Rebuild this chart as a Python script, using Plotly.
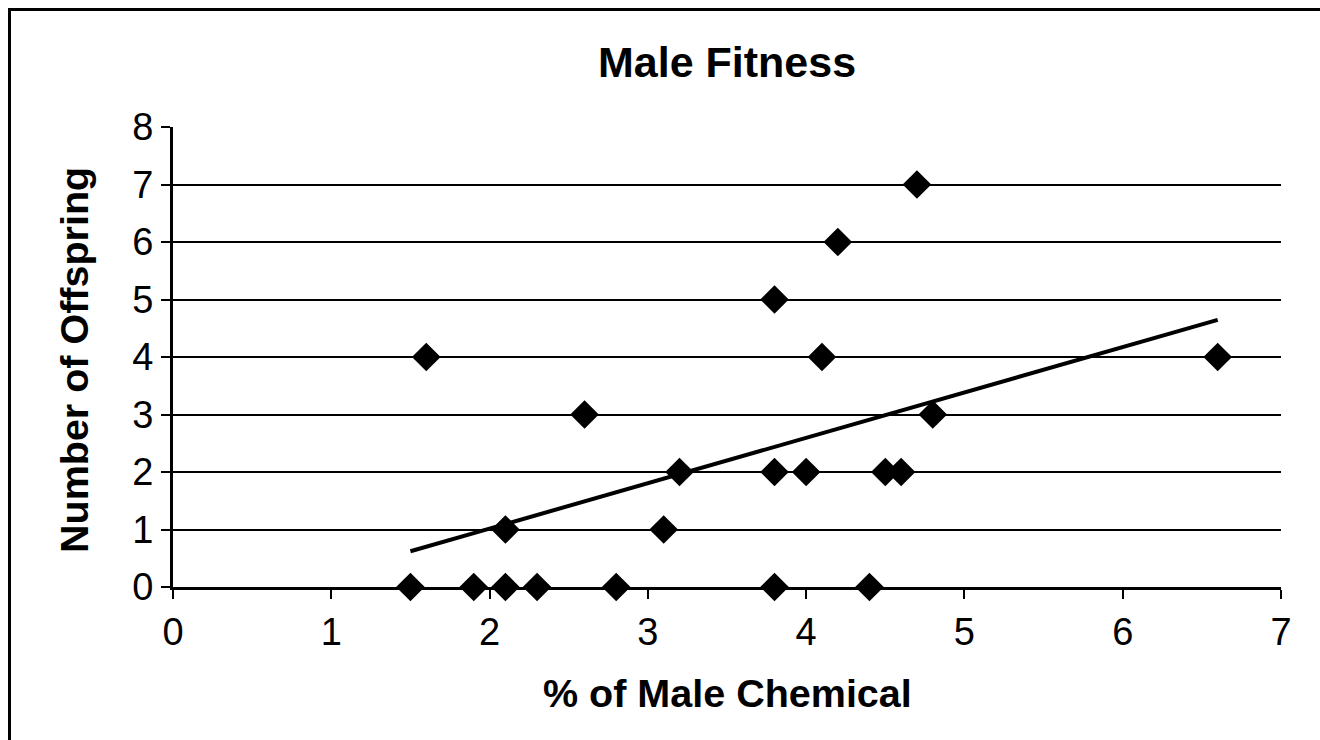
import numpy as np
import plotly.graph_objects as go

# Data
chemical_pct = [1.5, 1.6, 1.9, 2.1, 2.1, 2.3, 2.6, 2.8, 3.1, 3.2, 3.8, 3.8, 3.8,
                4.0, 4.1, 4.2, 4.4, 4.5, 4.6, 4.7, 4.8, 6.6]
offspring = [0, 4, 0, 0, 1, 0, 3, 0, 1, 2, 0, 2, 5,
             2, 4, 6, 0, 2, 2, 7, 3, 4]
x_ticks = [0, 1, 2, 3, 4, 5, 6, 7]
y_ticks = [0, 1, 2, 3, 4, 5, 6, 7, 8]

title_text = "Male Fitness"
x_title = "% of Male Chemical"
y_title = "Number of Offspring"

# Linear trendline (least squares) from the data
xa = np.array(chemical_pct)
ya = np.array(offspring)
slope, intercept = np.polyfit(xa, ya, 1)
trend_x = [xa.min(), xa.max()]
trend_y = [slope * v + intercept for v in trend_x]

FONT = "Liberation Sans, Arial, sans-serif"

fig = go.Figure()
fig.add_trace(go.Scatter(
    x=trend_x, y=trend_y, mode="lines",
    line=dict(color="black", width=4),
    hoverinfo="skip", showlegend=False, cliponaxis=False,
))
fig.add_trace(go.Scatter(
    x=chemical_pct, y=offspring, mode="markers",
    marker=dict(symbol="diamond", size=22, color="black", line=dict(width=0)),
    showlegend=False, cliponaxis=False,
))

W, H = 1320, 740
L, R, T, B = 173, 39, 127, 153
pw = W - L - R
ph = H - T - B

def px_x(sx):
    return (sx - L) / pw

def px_y(sy):
    return (H - B - sy) / ph

fig.update_layout(
    width=W, height=H,
    margin=dict(l=L, r=R, t=T, b=B),
    paper_bgcolor="white", plot_bgcolor="white",
    font=dict(family=FONT, color="black"),
    showlegend=False,
    xaxis=dict(
        range=[0, 7], tickvals=x_ticks, ticktext=[str(v) for v in x_ticks],
        showgrid=False, zeroline=False,
        showline=True, linecolor="black", linewidth=3,
        ticks="outside", ticklen=9, tickwidth=2, tickcolor="black",
        tickfont=dict(size=38, family=FONT, color="black"),
    ),
    yaxis=dict(
        range=[0, 8], tickvals=y_ticks, ticktext=[str(v) for v in y_ticks],
        showgrid=True, gridcolor="black", gridwidth=2,
        zeroline=False,
        showline=True, linecolor="black", linewidth=3,
        ticks="outside", ticklen=9, tickwidth=2, tickcolor="black",
        tickfont=dict(size=38, family=FONT, color="black"),
    ),
    annotations=[
        dict(text="<b>%s</b>" % title_text, xref="paper", yref="paper",
             x=px_x(727), y=px_y(62), xanchor="center", yanchor="middle",
             showarrow=False, font=dict(size=43, family=FONT, color="black")),
        dict(text="<b>%s</b>" % x_title, xref="paper", yref="paper",
             x=px_x(727), y=px_y(693), xanchor="center", yanchor="middle",
             showarrow=False, font=dict(size=39.5, family=FONT, color="black")),
        dict(text="<b>%s</b>" % y_title, xref="paper", yref="paper",
             x=px_x(74), y=px_y(360), xanchor="center", yanchor="middle",
             textangle=-90,
             showarrow=False, font=dict(size=39.5, family=FONT, color="black")),
    ],
    shapes=[
        dict(type="line", xref="paper", yref="paper",
             x0=px_x(9.5), x1=px_x(9.5), y0=px_y(760), y1=px_y(9.5),
             line=dict(color="black", width=3)),
        dict(type="line", xref="paper", yref="paper",
             x0=px_x(8), x1=px_x(1400), y0=px_y(9.5), y1=px_y(9.5),
             line=dict(color="black", width=3)),
    ],
)

fig.write_html(
    "out.html",
    config={"displayModeBar": False},
    post_script=(
        "document.documentElement.style.overflow='hidden';"
        "document.body.style.overflow='hidden';"
        "document.body.style.margin='0';"
        "document.documentElement.scrollTop=0;"
    ),
)
